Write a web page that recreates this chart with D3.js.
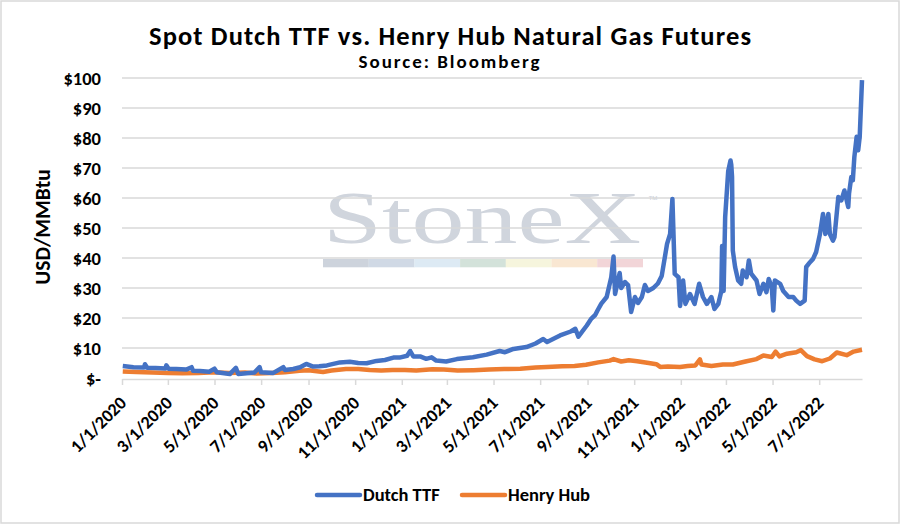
<!DOCTYPE html>
<html>
<head>
<meta charset="utf-8">
<script src="https://cdn.jsdelivr.net/npm/d3@7"></script>
<style>
  body { margin: 0; background: #fff; }
  text { font-family: Calibri, Carlito, Lato, sans-serif; font-weight: bold; fill: #000; }
</style>
</head>
<body>
<div id="chart"></div>
<script>
// Data
var ttfDates = ["2020-01-02","2020-01-16","2020-01-30","2020-01-31","2020-02-03","2020-02-14","2020-02-27","2020-02-28","2020-03-02","2020-03-12","2020-03-25","2020-04-01","2020-04-03","2020-04-12","2020-04-24","2020-05-01","2020-05-04","2020-05-21","2020-05-29","2020-06-01","2020-06-12","2020-06-22","2020-06-29","2020-07-01","2020-07-17","2020-07-30","2020-08-01","2020-08-12","2020-08-21","2020-08-29","2020-09-07","2020-09-15","2020-09-25","2020-10-12","2020-10-25","2020-11-05","2020-11-16","2020-11-29","2020-12-10","2020-12-21","2020-12-29","2021-01-08","2021-01-12","2021-01-16","2021-01-25","2021-02-02","2021-02-09","2021-02-15","2021-02-28","2021-03-14","2021-04-04","2021-04-22","2021-05-09","2021-05-16","2021-05-27","2021-06-13","2021-06-25","2021-07-05","2021-07-10","2021-07-27","2021-08-10","2021-08-16","2021-08-20","2021-08-31","2021-09-06","2021-09-11","2021-09-14","2021-09-19","2021-09-26","2021-10-02","2021-10-05","2021-10-07","2021-10-13","2021-10-15","2021-10-20","2021-10-24","2021-10-28","2021-11-02","2021-11-06","2021-11-11","2021-11-15","2021-11-19","2021-11-26","2021-12-02","2021-12-07","2021-12-14","2021-12-18","2021-12-21","2021-12-24","2021-12-29","2021-12-31","2022-01-04","2022-01-07","2022-01-13","2022-01-19","2022-01-25","2022-01-30","2022-02-04","2022-02-10","2022-02-14","2022-02-19","2022-02-23","2022-02-24","2022-02-26","2022-02-28","2022-03-04","2022-03-07","2022-03-08","2022-03-09","2022-03-10","2022-03-13","2022-03-17","2022-03-21","2022-03-23","2022-03-28","2022-03-31","2022-04-03","2022-04-10","2022-04-14","2022-04-19","2022-04-23","2022-04-26","2022-04-30","2022-05-02","2022-05-04","2022-05-11","2022-05-15","2022-05-22","2022-05-28","2022-06-01","2022-06-06","2022-06-12","2022-06-14","2022-06-19","2022-06-23","2022-06-27","2022-07-02","2022-07-06","2022-07-09","2022-07-13","2022-07-15","2022-07-19","2022-07-21","2022-07-26","2022-07-30","2022-08-03","2022-08-08","2022-08-09","2022-08-12","2022-08-14","2022-08-16","2022-08-19","2022-08-21","2022-08-23","2022-08-26"];
var ttfPrices = [4.0,3.6,3.5,4.6,3.4,3.3,3.2,4.2,3.1,3.0,2.8,3.6,2.4,2.3,2.1,3.1,1.9,1.3,3.4,1.3,1.6,1.8,3.6,1.9,1.7,3.6,2.7,3.0,3.6,4.7,3.8,3.9,4.2,5.2,5.4,5.0,4.9,5.7,6.0,6.8,6.8,7.4,9.0,7.2,7.2,6.4,6.9,5.8,5.5,6.3,6.9,7.8,9.0,8.6,9.7,10.3,11.5,13.0,12.0,14.2,15.5,16.4,13.8,17.5,19.8,21.0,22.5,24.8,27.0,33.6,40.5,28.0,35.0,30.0,32.0,31.0,22.0,27.0,25.0,27.0,31.0,29.0,30.0,31.5,34.0,44.7,48.0,59.7,34.7,33.6,24.0,32.5,24.7,28.0,24.7,31.4,27.0,24.7,27.0,23.0,24.7,29.0,44.0,29.0,53.6,69.0,72.5,71.0,67.0,42.5,37.0,32.5,31.4,35.8,33.6,39.2,34.8,32.5,28.0,31.4,28.6,33.0,30.3,22.5,32.5,31.4,29.0,27.0,27.0,25.8,24.7,25.8,37.0,38.6,39.7,42.0,48.0,54.7,48.0,54.7,48.0,45.8,47.0,60.3,59.2,62.5,57.0,61.4,67.0,65.9,73.7,80.4,75.9,80.4,99.3];

var hhDates = ["2020-01-02","2020-01-20","2020-02-10","2020-03-01","2020-03-20","2020-04-10","2020-05-01","2020-05-20","2020-06-10","2020-06-25","2020-07-15","2020-08-01","2020-08-20","2020-09-01","2020-09-20","2020-10-01","2020-10-20","2020-11-05","2020-11-20","2020-12-05","2020-12-20","2021-01-05","2021-01-20","2021-02-10","2021-02-25","2021-03-15","2021-04-05","2021-04-25","2021-05-15","2021-06-05","2021-06-25","2021-07-10","2021-07-30","2021-08-15","2021-08-30","2021-09-15","2021-09-30","2021-10-05","2021-10-15","2021-10-25","2021-11-05","2021-11-20","2021-11-30","2021-12-05","2021-12-15","2021-12-31","2022-01-10","2022-01-20","2022-01-26","2022-01-28","2022-02-10","2022-02-25","2022-03-10","2022-03-28","2022-04-10","2022-04-19","2022-04-30","2022-05-05","2022-05-10","2022-05-20","2022-06-01","2022-06-07","2022-06-15","2022-06-25","2022-07-05","2022-07-15","2022-07-24","2022-08-06","2022-08-15","2022-08-26"];
var hhPrices = [2.2,2.0,1.8,1.7,1.6,1.7,1.9,1.7,1.8,1.5,1.7,1.9,2.4,2.6,2.0,2.5,3.0,3.0,2.7,2.5,2.7,2.7,2.5,2.9,2.8,2.5,2.6,2.8,3.0,3.1,3.5,3.7,3.9,4.0,4.4,5.2,5.8,6.3,5.5,5.9,5.6,5.0,4.6,3.7,3.8,3.7,4.0,4.2,6.2,4.5,4.0,4.5,4.5,5.6,6.3,7.5,7.0,8.8,7.2,8.1,8.6,9.3,7.3,6.2,5.6,6.5,8.5,7.6,8.8,9.4];

var yTicks = [0,10,20,30,40,50,60,70,80,90,100];
var xTickLabels = ["1/1/2020","3/1/2020","5/1/2020","7/1/2020","9/1/2020","11/1/2020","1/1/2021","3/1/2021","5/1/2021","7/1/2021","9/1/2021","11/1/2021","1/1/2022","3/1/2022","5/1/2022","7/1/2022"];
var seriesNames = ["Dutch TTF","Henry Hub"];

var svgWidth = 902;
var svgHeight = 527;

var margin = { top: 78, right: 40, bottom: 149, left: 122 };
var width = 862 - margin.left;
var height = 378 - margin.top;

var svg = d3.select("#chart")
    .append("svg")
    .attr("width", svgWidth)
    .attr("height", svgHeight);

// Chart border
svg.append("rect")
    .attr("x", 1).attr("y", 1)
    .attr("width", 898).attr("height", 522)
    .attr("fill", "#fff")
    .attr("stroke", "#d9d9d9")
    .attr("stroke-width", 1.5);

// Titles
svg.append("text")
    .attr("x", 450).attr("y", 45)
    .attr("text-anchor", "middle")
    .attr("font-size", 26.5)
    .attr("textLength", 602)
    .attr("lengthAdjust", "spacing")
    .text("Spot Dutch TTF vs. Henry Hub Natural Gas Futures");

svg.append("text")
    .attr("x", 449).attr("y", 68)
    .attr("text-anchor", "middle")
    .attr("font-size", 19)
    .attr("textLength", 181)
    .attr("lengthAdjust", "spacing")
    .text("Source: Bloomberg");

var parseDate = d3.timeParse("%Y-%m-%d");
var parseTick = d3.timeParse("%-m/%-d/%Y");

var ttfData = ttfDates.map((d, i) => ({ date: parseDate(d), value: ttfPrices[i] }));
var hhData = hhDates.map((d, i) => ({ date: parseDate(d), value: hhPrices[i] }));

var chartGroup = svg.append("g")
    .attr("transform", `translate(${margin.left}, ${margin.top})`);

// Scales
var xTimeScale = d3.scaleTime()
    .domain([parseTick("1/1/2020"), parseDate(ttfDates[ttfDates.length - 1])])
    .range([0, width]);

var yLinearScale = d3.scaleLinear()
    .domain([0, 100])
    .range([height, 0]);

// Watermark behind the gridlines
var wm = chartGroup.append("g").attr("transform", `translate(${323 - margin.left}, 0)`);
wm.append("text")
    .attr("x", 0).attr("y", 243 - margin.top)
    .attr("textLength", 318)
    .attr("lengthAdjust", "spacingAndGlyphs")
    .style("font-family", "'Liberation Serif', 'DejaVu Serif', serif")
    .style("font-weight", "normal")
    .style("fill", "#d0d5dd")
    .attr("font-size", 74)
    .text("StoneX");
wm.append("text")
    .attr("x", 325).attr("y", 203 - margin.top)
    .style("font-family", "Arial, sans-serif")
    .style("font-weight", "normal")
    .style("fill", "#c8ced8")
    .attr("font-size", 10)
    .text("\u2122");
var wmColors = ["#cdd3dc","#d0d9e5","#ddeaf4","#d3e2da","#f6f5dd","#f9e7d2","#f2d5d8"];
wm.selectAll(".wmbar")
    .data(wmColors)
    .enter()
    .append("rect")
    .attr("x", (d, i) => i * 45.7)
    .attr("y", 259 - margin.top)
    .attr("width", 45.8)
    .attr("height", 8.3)
    .attr("fill", d => d);

// Gridlines
chartGroup.selectAll(".grid")
    .data(yTicks.slice(1))
    .enter()
    .append("line")
    .attr("x1", 0).attr("x2", width)
    .attr("y1", d => yLinearScale(d))
    .attr("y2", d => yLinearScale(d))
    .attr("stroke", "#d9d9d9")
    .attr("stroke-width", 1.3);

// Y axis labels
var leftAxis = d3.axisLeft(yLinearScale)
    .tickValues(yTicks)
    .tickSize(0)
    .tickPadding(21)
    .tickFormat(d => d === 0 ? "$-" : "$" + d);

var yAxis = chartGroup.append("g").call(leftAxis);
yAxis.select(".domain").remove();
yAxis.selectAll("text")
    .attr("font-size", 18.5)
    .attr("dy", "0.35em")
    .style("font-family", "Calibri, Carlito, Lato, sans-serif");

// X axis
var tickDates = xTickLabels.map(parseTick);
var bottomAxis = d3.axisBottom(xTimeScale)
    .tickValues(tickDates)
    .tickSize(6)
    .tickSizeOuter(0)
    .tickFormat(d3.timeFormat("%-m/%-d/%Y"));

var xAxis = chartGroup.append("g")
    .attr("transform", `translate(0, ${height + 1})`)
    .call(bottomAxis);
xAxis.select(".domain").attr("stroke", "#d9d9d9").attr("stroke-width", 1.5);
xAxis.selectAll(".tick line").attr("stroke", "#d9d9d9").attr("stroke-width", 1.5);
xAxis.selectAll("text")
    .attr("font-size", 18)
    .attr("text-anchor", "end")
    .attr("dy", 0)
    .attr("y", 0)
    .attr("transform", "translate(5, 25) rotate(-45)")
    .style("font-family", "Calibri, Carlito, Lato, sans-serif");

// Y axis title
svg.append("text")
    .attr("transform", "translate(50, 227) rotate(-90)")
    .attr("text-anchor", "middle")
    .attr("font-size", 21.5)
    .text("USD/MMBtu");

// Lines
var lineGen = d3.line()
    .x(d => xTimeScale(d.date))
    .y(d => yLinearScale(d.value));

chartGroup.append("path")
    .datum(hhData)
    .attr("d", lineGen)
    .attr("fill", "none")
    .attr("stroke", "#ed7d31")
    .attr("stroke-width", 4.5)
    .attr("stroke-linejoin", "round");

chartGroup.append("path")
    .datum(ttfData)
    .attr("d", lineGen)
    .attr("fill", "none")
    .attr("stroke", "#4472c4")
    .attr("stroke-width", 4.5)
    .attr("stroke-linejoin", "round");

// Legend
var legendColors = ["#4472c4", "#ed7d31"];
var legendX = [317, 462];
var legend = svg.selectAll(".legend")
    .data(seriesNames)
    .enter()
    .append("g")
    .attr("transform", (d, i) => `translate(${legendX[i]}, 495)`);

legend.append("line")
    .attr("x1", 0).attr("x2", 43)
    .attr("stroke", (d, i) => legendColors[i])
    .attr("stroke-width", 4.5)
    .attr("stroke-linecap", "round");

legend.append("text")
    .attr("x", 46).attr("y", 6)
    .attr("font-size", 18.5)
    .text(d => d);
</script>
</body>
</html>
